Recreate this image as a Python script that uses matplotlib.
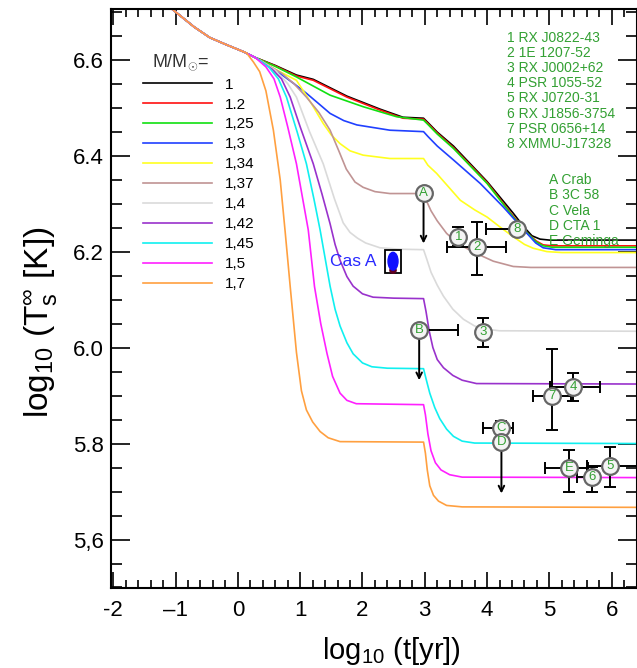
import matplotlib
matplotlib.use("Agg")
import matplotlib.pyplot as plt
from matplotlib.patches import Rectangle, Ellipse
from matplotlib.ticker import MultipleLocator

plt.rcParams['font.family'] = ['Liberation Sans', 'DejaVu Sans']
plt.rcParams['mathtext.fontset'] = 'custom'
plt.rcParams['mathtext.rm'] = 'Liberation Sans'
plt.rcParams['mathtext.it'] = 'Liberation Sans'

# curvas de enfriamiento: log10(t[yr]) vs log10(Ts)
masas = ['1', '1.2', '1,25', '1,3', '1,34', '1,37', '1,4', '1,42', '1,45', '1,5', '1,7']
colores = ['black', '#ff1010', '#10e010', '#2040ff', '#ffff20', '#c09494',
           '#dadada', '#9932cc', '#10f0f0', '#ff20ff', '#ffa040']

# tramo comun a todas las masas
t_inicio = [-1.1, -0.7, -0.45, -0.2, 0.1, 0.27]
T_inicio = [6.71, 6.668, 6.646, 6.632, 6.616, 6.605]

t_100 = [0.6, 0.94, 1.21, 1.75, 2.28, 2.65, 2.98, 3.05, 3.2, 3.46, 4.0, 4.42, 4.6, 4.72, 4.85, 5.0, 6.5]
T_100 = [6.588, 6.568, 6.559, 6.524, 6.497, 6.480, 6.478, 6.469, 6.449, 6.420, 6.346, 6.280, 6.250, 6.233, 6.226, 6.224, 6.224]
t_120 = [0.6, 0.94, 1.21, 1.75, 2.28, 2.65, 2.98, 3.05, 3.2, 3.46, 4.0, 4.42, 4.65, 4.79, 4.9, 5.05, 6.5]
T_120 = [6.587, 6.566, 6.557, 6.522, 6.495, 6.478, 6.476, 6.467, 6.447, 6.417, 6.344, 6.274, 6.238, 6.222, 6.214, 6.212, 6.212]
t_125 = [0.6, 0.94, 1.48, 2.01, 2.55, 2.98, 3.05, 3.2, 3.46, 4.0, 4.42, 4.65, 4.79, 4.9, 5.05, 6.5]
T_125 = [6.586, 6.564, 6.526, 6.502, 6.481, 6.474, 6.465, 6.445, 6.415, 6.342, 6.272, 6.238, 6.220, 6.212, 6.209, 6.209]
t_130 = [0.3, 0.68, 0.9, 1.10, 1.3, 1.48, 1.7, 1.91, 2.44, 2.98, 3.05, 3.2, 3.46, 3.89, 4.26, 4.64, 4.78, 4.9, 5.1, 6.5]
T_130 = [6.603, 6.571, 6.55, 6.530, 6.508, 6.488, 6.473, 6.464, 6.453, 6.450, 6.44, 6.42, 6.391, 6.342, 6.293, 6.238, 6.218, 6.208, 6.204, 6.204]
t_134 = [0.3, 0.6, 0.94, 1.15, 1.37, 1.5, 1.64, 1.8, 2.01, 2.44, 2.98, 3.05, 3.19, 3.38, 3.57, 3.8, 4.0, 4.2, 4.42, 4.6, 4.74, 4.96, 5.2, 6.5]
T_134 = [6.603, 6.58, 6.557, 6.515, 6.467, 6.443, 6.425, 6.41, 6.401, 6.394, 6.394, 6.38, 6.363, 6.335, 6.307, 6.287, 6.272, 6.252, 6.231, 6.215, 6.207, 6.200, 6.198, 6.198]
t_137 = [0.3, 0.7, 0.9, 1.10, 1.3, 1.48, 1.62, 1.74, 1.88, 2.01, 2.2, 2.44, 2.98, 3.03, 3.1, 3.2, 3.35, 3.55, 3.83, 4.1, 4.42, 4.7, 6.5]
T_137 = [6.603, 6.572, 6.55, 6.522, 6.49, 6.453, 6.41, 6.372, 6.345, 6.334, 6.325, 6.321, 6.321, 6.305, 6.285, 6.264, 6.238, 6.215, 6.196, 6.18, 6.169, 6.167, 6.167]
t_140 = [0.3, 0.6, 0.8, 0.94, 1.15, 1.37, 1.55, 1.69, 1.8, 1.92, 2.05, 2.28, 2.6, 2.98, 3.03, 3.1, 3.2, 3.3, 3.45, 3.62, 3.8, 3.94, 4.2, 6.5]
T_140 = [6.603, 6.578, 6.55, 6.522, 6.45, 6.383, 6.31, 6.26, 6.24, 6.228, 6.218, 6.208, 6.205, 6.204, 6.185, 6.157, 6.13, 6.107, 6.08, 6.059, 6.045, 6.039, 6.035, 6.034]
t_142 = [0.3, 0.55, 0.7, 0.84, 1.0, 1.21, 1.35, 1.48, 1.56, 1.64, 1.75, 1.85, 2.0, 2.17, 2.5, 2.98, 3.02, 3.07, 3.13, 3.2, 3.3, 3.45, 3.6, 3.83, 6.5]
T_142 = [6.603, 6.58, 6.56, 6.522, 6.46, 6.383, 6.32, 6.258, 6.215, 6.182, 6.148, 6.128, 6.112, 6.105, 6.103, 6.102, 6.075, 6.035, 6.0, 5.975, 5.958, 5.942, 5.932, 5.925, 5.924]
t_145 = [0.3, 0.5, 0.65, 0.78, 0.95, 1.10, 1.22, 1.32, 1.48, 1.56, 1.64, 1.75, 1.85, 2.0, 2.15, 2.4, 2.98, 3.02, 3.08, 3.16, 3.24, 3.35, 3.46, 3.6, 3.8, 6.5]
T_145 = [6.603, 6.584, 6.56, 6.522, 6.45, 6.383, 6.31, 6.245, 6.128, 6.08, 6.045, 6.01, 5.987, 5.968, 5.96, 5.957, 5.956, 5.935, 5.905, 5.875, 5.852, 5.83, 5.815, 5.805, 5.801, 5.800]
t_150 = [0.3, 0.45, 0.58, 0.68, 0.8, 0.94, 1.13, 1.23, 1.33, 1.43, 1.52, 1.64, 1.75, 1.9, 2.98, 3.01, 3.05, 3.1, 3.17, 3.26, 3.4, 3.6, 6.5]
T_150 = [6.602, 6.585, 6.56, 6.522, 6.46, 6.383, 6.245, 6.127, 6.05, 5.988, 5.94, 5.905, 5.89, 5.883, 5.881, 5.86, 5.82, 5.785, 5.76, 5.745, 5.735, 5.73, 5.729]
t_170 = [0.14, 0.25, 0.35, 0.45, 0.57, 0.68, 0.76, 0.84, 0.94, 1.02, 1.1, 1.2, 1.32, 1.45, 1.64, 2.98, 3.01, 3.04, 3.08, 3.14, 3.22, 3.35, 3.6, 6.5]
T_170 = [6.614, 6.595, 6.575, 6.535, 6.453, 6.349, 6.24, 6.127, 5.99, 5.91, 5.87, 5.845, 5.825, 5.812, 5.804, 5.803, 5.78, 5.745, 5.712, 5.692, 5.68, 5.671, 5.668, 5.667]

curvas_t = [t_100, t_120, t_125, t_130, t_134, t_137, t_140, t_142, t_145, t_150, t_170]
curvas_T = [T_100, T_120, T_125, T_130, T_134, T_137, T_140, T_142, T_145, T_150, T_170]

# estrellas observadas
fuentes = ['1', '2', '3', '4', '5', '6', '7', '8', 'A', 'B', 'C', 'D', 'E']
f_t = [3.54, 3.83, 3.94, 5.38, 5.97, 5.68, 5.04, 4.48, 2.98, 2.91, 4.23, 4.23, 5.32]
f_T = [6.231, 6.210, 6.032, 5.918, 5.753, 5.730, 5.899, 6.248, 6.322, 6.036, 5.832, 5.804, 5.748]
f_xerr_lo = [0.0, 0.48, 0.0, 0.37, 0.37, 0.24, 0.30, 0.50, 0.0, 0.0, 0.29, 0.0, 0.39]
f_xerr_hi = [0.0, 0.48, 0.0, 0.43, 0.50, 0.0, 0.30, 0.0, 0.0, 0.63, 0.19, 0.0, 0.30]
f_yerr_lo = [0.02, 0.059, 0.03, 0.03, 0.043, 0.032, 0.071, 0.0, 0.0, 0.0, 0.0, 0.0, 0.05]
f_yerr_hi = [0.02, 0.052, 0.03, 0.03, 0.039, 0.022, 0.099, 0.0, 0.0, 0.0, 0.015, 0.0, 0.038]
f_limite = [0, 0, 0, 0, 0, 0, 0, 0, 0.105, 0.104, 0, 0.108, 0]

nombres_num = ['1 RX J0822-43', '2 1E 1207-52', '3 RX J0002+62', '4 PSR 1055-52',
               '5 RX J0720-31', '6 RX J1856-3754', '7 PSR 0656+14', '8 XMMU-J17328']
nombres_let = ['A Crab', 'B 3C 58', 'C Vela', 'D CTA 1', 'E Geminga']

casA_t, casA_T = 2.49, 6.18

verde = '#33a033'

fig = plt.figure(figsize=(6.37, 6.68), dpi=100)
ax = fig.add_axes([0.1736, 0.1198, 0.8264, 0.8663])

lineas = []
for tt, TT, c, m in zip(curvas_t, curvas_T, colores, masas):
    x = [v for v in t_inicio if v < tt[0]] + tt
    y = [T for v, T in zip(t_inicio, T_inicio) if v < tt[0]] + TT
    l, = ax.plot(x, y, color=c, lw=1.2, label=m)
    lineas.append(l)

# barras de error y limites superiores
ax.errorbar(f_t, f_T, xerr=[f_xerr_lo, f_xerr_hi], yerr=[f_yerr_lo, f_yerr_hi],
            fmt='none', ecolor='black', elinewidth=1.4, capsize=4, capthick=1.4, zorder=4)
for x, y, d in zip(f_t, f_T, f_limite):
    if d > 0:
        ax.annotate('', xy=(x, y - d), xytext=(x, y),
                    arrowprops=dict(arrowstyle='->', color='black', lw=1.4,
                                    shrinkA=0, shrinkB=0), zorder=4)
ax.plot(f_t, f_T, 'o', ms=12, mfc='#f4f4f4', mec='#666666', mew=1.6, zorder=5)
for x, y, n in zip(f_t, f_T, fuentes):
    ax.text(x, y, n, color=verde, fontsize=9.5, ha='center', va='center', zorder=6)

# Cas A
ax.add_patch(Rectangle((casA_t - 0.135, casA_T - 0.025), 0.27, 0.049,
                       facecolor='white', edgecolor='black', lw=1.3, zorder=4))
ax.add_patch(Ellipse((casA_t, casA_T - 0.019), 0.1, 0.012, color='#600020', zorder=5))
ax.add_patch(Ellipse((casA_t, casA_T), 0.16, 0.037, color='#1010ff', zorder=5))
ax.text(casA_t - 0.27, casA_T, 'Cas A', color='#2828ff', fontsize=12.5,
        ha='right', va='center')

for i, s in enumerate(nombres_num):
    ax.text(4.32, 6.646 - i * 0.0317, s, color=verde, fontsize=10, va='center')
for i, s in enumerate(nombres_let):
    ax.text(5.0, 6.349 - i * 0.0318, s, color=verde, fontsize=10, va='center')

ax.legend(handles=lineas, loc='upper left', bbox_to_anchor=(0.062, 0.882),
          frameon=False, fontsize=11, handlelength=4.5, handletextpad=0.85,
          labelspacing=0.39, borderpad=0, borderaxespad=0)
ax.text(0.132, 0.9095, r'M/M$_{\odot}$=', transform=ax.transAxes, fontsize=13,
        color='#333333', ha='center', va='center')

ax.set_xlim(-2.043, 6.406)
ax.set_ylim(5.499, 6.705)
ax.set_xticks([-2, -1, 0, 1, 2, 3, 4, 5, 6])
ax.set_xticklabels(['-2', '\u20131', '0', '1', '2', '3', '4', '5', '6'])
ax.set_yticks([5.6, 5.8, 6.0, 6.2, 6.4, 6.6])
ax.set_yticklabels(['5,6', '5.8', '6.0', '6.2', '6.4', '6.6'])
ax.xaxis.set_minor_locator(MultipleLocator(0.2))
ax.yaxis.set_minor_locator(MultipleLocator(0.05))
ax.tick_params(which='both', direction='in', top=True, right=True, width=1.2)
ax.tick_params(axis='x', which='major', length=11.5, pad=9, labelsize=16)
ax.tick_params(axis='x', which='minor', length=6)
ax.tick_params(axis='y', which='major', length=14, pad=5, labelsize=16)
ax.tick_params(axis='y', which='minor', length=8)
for s in ax.spines.values():
    s.set_linewidth(1.5)

ax.set_xlabel(r'log$_{10}$ (t[yr])', fontsize=21, labelpad=10)
ax.xaxis.label.set_x(0.533)
ax.set_ylabel(r'log$_{10}$ (T$_s^{\infty}$ [K])', fontsize=24, labelpad=10)
ax.yaxis.label.set_y(0.46)

fig.savefig('out.png', dpi=100)
